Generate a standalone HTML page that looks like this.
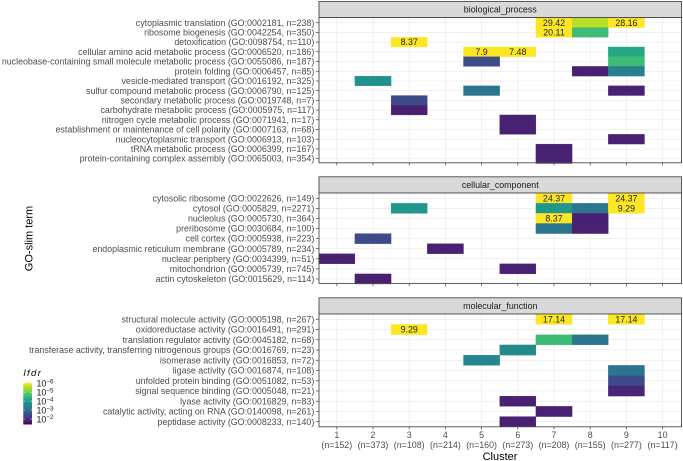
<!DOCTYPE html>
<html lang="en">
<head>
<meta charset="utf-8">
<title>GO-slim term enrichment by cluster</title>
<style>
html,body{margin:0;padding:0;background:#fff;width:683px;height:461px;overflow:hidden}
svg{display:block;font-family:"Liberation Sans",sans-serif}
</style>
</head>
<body>
<svg id="chart" width="683" height="461" viewBox="0 0 683 461" xmlns="http://www.w3.org/2000/svg"></svg>
<script>
const clusters = ["1","2","3","4","5","6","7","8","9","10"];
const clusterSizes = ["(n=152)","(n=373)","(n=108)","(n=214)","(n=160)","(n=273)","(n=208)","(n=155)","(n=277)","(n=117)"];
const legendExponents = [-6,-5,-4,-3,-2];

const bpTerms = [
"cytoplasmic translation (GO:0002181, n=238)",
"ribosome biogenesis (GO:0042254, n=350)",
"detoxification (GO:0098754, n=110)",
"cellular amino acid metabolic process (GO:0006520, n=186)",
"nucleobase-containing small molecule metabolic process (GO:0055086, n=187)",
"protein folding (GO:0006457, n=85)",
"vesicle-mediated transport (GO:0016192, n=325)",
"sulfur compound metabolic process (GO:0006790, n=125)",
"secondary metabolic process (GO:0019748, n=7)",
"carbohydrate metabolic process (GO:0005975, n=117)",
"nitrogen cycle metabolic process (GO:0071941, n=17)",
"establishment or maintenance of cell polarity (GO:0007163, n=68)",
"nucleocytoplasmic transport (GO:0006913, n=103)",
"tRNA metabolic process (GO:0006399, n=167)",
"protein-containing complex assembly (GO:0065003, n=354)"];
/* each cell: term index, cluster number, log10 lfdr, printed enrichment */
const bpCells = [
[0,7,-6,"29.42"],[0,8,-5.55,""],[0,9,-6,"28.16"],
[1,7,-6,"20.11"],[1,8,-4.6,""],
[2,3,-6,"8.37"],
[3,5,-6,"7.9"],[3,6,-6,"7.48"],[3,9,-4.25,""],
[4,5,-2.6,""],[4,9,-4.6,""],
[5,8,-2.0,""],[5,9,-3.5,""],
[6,2,-3.8,""],
[7,5,-3.3,""],[7,9,-2.0,""],
[8,3,-2.6,""],
[9,3,-2.0,""],
[10,6,-2.0,""],
[11,6,-2.0,""],
[12,9,-2.0,""],
[13,7,-2.0,""],
[14,7,-2.0,""]];

const ccTerms = [
"cytosolic ribosome (GO:0022626, n=149)",
"cytosol (GO:0005829, n=2271)",
"nucleolus (GO:0005730, n=364)",
"preribosome (GO:0030684, n=100)",
"cell cortex (GO:0005938, n=223)",
"endoplasmic reticulum membrane (GO:0005789, n=234)",
"nuclear periphery (GO:0034399, n=51)",
"mitochondrion (GO:0005739, n=745)",
"actin cytoskeleton (GO:0015629, n=114)"];
const ccCells = [
[0,7,-6,"24.37"],[0,9,-6,"24.37"],
[1,3,-3.9,""],[1,7,-3.9,""],[1,8,-3.3,""],[1,9,-6,"9.29"],
[2,7,-6,"8.37"],[2,8,-2.0,""],
[3,7,-3.3,""],[3,8,-2.0,""],
[4,2,-2.6,""],
[5,4,-2.0,""],
[6,1,-2.0,""],
[7,6,-2.0,""],
[8,2,-2.0,""]];

const mfTerms = [
"structural molecule activity (GO:0005198, n=267)",
"oxidoreductase activity (GO:0016491, n=291)",
"translation regulator activity (GO:0045182, n=68)",
"transferase activity, transferring nitrogenous groups (GO:0016769, n=23)",
"isomerase activity (GO:0016853, n=72)",
"ligase activity (GO:0016874, n=108)",
"unfolded protein binding (GO:0051082, n=53)",
"signal sequence binding (GO:0005048, n=21)",
"lyase activity (GO:0016829, n=83)",
"catalytic activity, acting on RNA (GO:0140098, n=261)",
"peptidase activity (GO:0008233, n=140)"];
const mfCells = [
[0,7,-6,"17.14"],[0,9,-6,"17.14"],
[1,3,-6,"9.29"],
[2,7,-4.6,""],[2,8,-3.3,""],
[3,6,-3.7,""],
[4,5,-3.6,""],
[5,9,-3.3,""],
[6,9,-2.6,""],
[7,9,-2.05,""],
[8,6,-2.0,""],
[9,7,-2.0,""],
[10,6,-2.0,""]];

const svg = document.getElementById('chart');
const NS = 'http://www.w3.org/2000/svg';
function make(tag, attrs, parent, text){
  const el = document.createElementNS(NS, tag);
  for(const k in attrs) el.setAttribute(k, attrs[k]);
  if(text !== undefined) el.textContent = text;
  (parent||svg).appendChild(el);
  return el;
}
const viridis = [[68,1,84],[72,36,117],[65,68,135],[53,95,141],[42,120,142],[33,145,140],[34,168,132],[68,191,112],[122,209,81],[189,223,38],[253,231,37]];
function colorOf(logv){
  let t = (-1.6 - logv) / 4.4;
  t = Math.max(0, Math.min(1, t));
  const p = t * (viridis.length - 1), i = Math.min(Math.floor(p), viridis.length - 2), f = p - i;
  const c = viridis[i].map((a, j) => Math.round(a + (viridis[i + 1][j] - a) * f));
  return 'rgb(' + c.join(',') + ')';
}
const panelLeft = 319, panelRight = 681.5;
const xOf = c => 336.8 + (c - 1) * 36.2;
const cellW = 36.2;
const LABEL_SIZE = 8.87;

function drawPanel(name, title, terms, cells, geom){
  const yOf = i => geom.first + i * geom.step;
  const g = make('g', {});
  
  
  const strip = make('rect', {x:panelLeft, y:geom.stripTop, width:panelRight-panelLeft, height:geom.top-geom.stripTop, fill:'#d9d9d9', stroke:'#4a4a4a', 'stroke-width':0.9}, g);
  
  
  const st = make('text', {x:(panelLeft+panelRight)/2, y:(geom.stripTop+geom.top)/2+3.1, 'text-anchor':'middle', 'font-size':LABEL_SIZE, fill:'#1a1a1a'}, g, title);
  
  
  make('rect', {x:panelLeft, y:geom.top, width:panelRight-panelLeft, height:geom.bottom-geom.top, fill:'#fff'}, g);
  terms.forEach((t, i) => {
    make('line', {x1:panelLeft, x2:panelRight, y1:yOf(i), y2:yOf(i), stroke:'#ebebeb', 'stroke-width':0.7}, g);
  });
  clusters.forEach((c, i) => {
    make('line', {x1:xOf(i+1), x2:xOf(i+1), y1:geom.top, y2:geom.bottom, stroke:'#ebebeb', 'stroke-width':0.7}, g);
  });
  cells.forEach(cell => {
    const col = colorOf(cell[2]);
    const r = make('rect', {x:xOf(cell[1])-cellW/2, y:yOf(cell[0])-geom.step/2, width:cellW, height:geom.step, fill:col, stroke:col, 'stroke-width':0.3}, g);
    
    
  });
  cells.forEach(cell => {
    if(cell[3]){
      const v = make('text', {x:xOf(cell[1]), y:yOf(cell[0])+3.1, 'text-anchor':'middle', 'font-size':LABEL_SIZE, fill:'#222'}, g, cell[3]);
      
      
    }
  });
  make('rect', {x:panelLeft, y:geom.top, width:panelRight-panelLeft, height:geom.bottom-geom.top, fill:'none', stroke:'#4a4a4a', 'stroke-width':0.9}, g);
  terms.forEach((t, i) => {
    make('line', {x1:315.8, x2:panelLeft, y1:yOf(i), y2:yOf(i), stroke:'#444', 'stroke-width':0.7}, g);
    const l = make('text', {x:314.3, y:yOf(i)+3.1, 'text-anchor':'end', 'font-size':LABEL_SIZE, fill:'#4d4d4d'}, g, t);
    
    
  });
  clusters.forEach((c, i) => {
    make('line', {x1:xOf(i+1), x2:xOf(i+1), y1:geom.bottom, y2:geom.bottom+2.7, stroke:'#444', 'stroke-width':0.7}, g);
  });
}
drawPanel('biological-process', 'biological_process', bpTerms, bpCells, {stripTop:1.5, top:17.6, bottom:162.8, first:22.7, step:9.71});
drawPanel('cellular-component', 'cellular_component', ccTerms, ccCells, {stripTop:176.8, top:193, bottom:283.4, first:198.3, step:10.08});
drawPanel('molecular-function', 'molecular_function', mfTerms, mfCells, {stripTop:297.8, top:314, bottom:426.8, first:319.3, step:10.24});

clusters.forEach((c, i) => {
  const a = make('text', {x:xOf(i+1), y:438, 'text-anchor':'middle', 'font-size':LABEL_SIZE, fill:'#4d4d4d'}, svg, c);
  
  
  const b = make('text', {x:xOf(i+1), y:448, 'text-anchor':'middle', 'font-size':LABEL_SIZE, fill:'#4d4d4d'}, svg, clusterSizes[i]);
  
  
});
const xt = make('text', {x:500, y:460, 'text-anchor':'middle', 'font-size':11, fill:'#000'}, svg, 'Cluster');


const yt = make('text', {x:0, y:0, transform:'translate(32.5 238.5) rotate(-90)', 'text-anchor':'middle', 'font-size':11, fill:'#000'}, svg, 'GO-slim term');



/* legend */
const lg = make('g', {});


const lt = make('text', {x:23.5, y:376, 'font-size':9.5, 'font-style':'italic', 'letter-spacing':'1.4', fill:'#000'}, lg, 'lfdr');


const legendTop = 382.7, legendBottom = 424.2, legendSteps = 40;
for(let i = 0; i < legendSteps; i++){
  const h = (legendBottom - legendTop) / legendSteps;
  const v = -6 + (i + 0.5) / legendSteps * 4.4;
  make('rect', {x:23.3, y:legendTop + i*h, width:8.7, height:h+0.3, fill:colorOf(v)}, lg);
}
legendExponents.forEach(e => {
  const y = 383.2 + (e + 6) * 8.95;
  make('line', {x1:23.3, x2:25, y1:y, y2:y, stroke:'#fff', 'stroke-width':0.5}, lg);
  make('line', {x1:30.3, x2:32, y1:y, y2:y, stroke:'#fff', 'stroke-width':0.5}, lg);
  const t = make('text', {x:36.5, y:y+3.4, 'font-size':LABEL_SIZE, fill:'#1a1a1a'}, lg, '10');
  
  
  make('tspan', {dy:'-3.2', 'font-size':6.2}, t, '\u2212' + Math.abs(e));
});
</script>
</body>
</html>
